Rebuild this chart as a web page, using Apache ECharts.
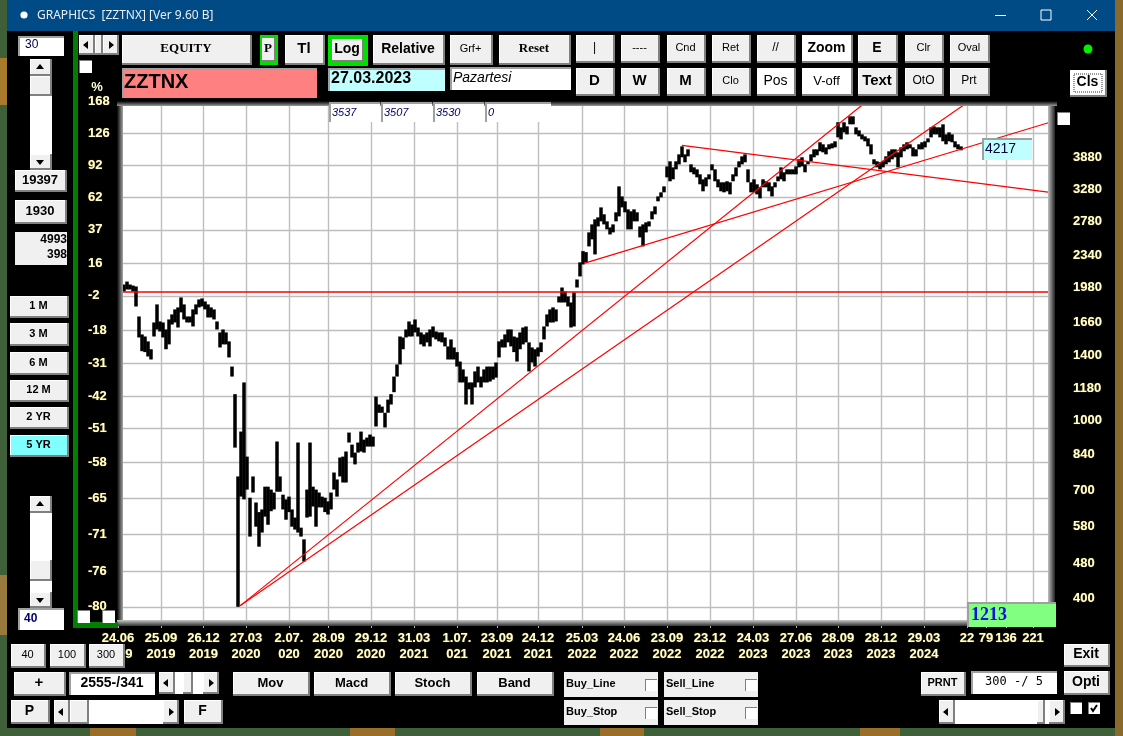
<!DOCTYPE html>
<html><head><meta charset="utf-8">
<style>html,body{margin:0;padding:0;background:#000;overflow:hidden}#c{width:1123px;height:736px}</style>
<script src="https://cdn.jsdelivr.net/npm/echarts@6/dist/echarts.min.js"></script></head>
<body><div id="c"></div>
<script>
// ---------- data ----------
const highs = [2045,2066,2098,2130,2098,2087,2077,1780,1623,1606,1566,1504,1726,1894,1735,1726,1665,1753,1799,1846,1865,1963,1894,1780,1780,1846,1894,1943,1953,1923,1894,1865,1846,1735,1640,1665,1640,1566,1376,1194,782,985,1268,866,701,782,684,651,660,742,742,731,720,936,782,712,695,705,660,633,931,601,566,731,931,742,731,720,705,701,688,720,798,770,862,866,889,980,921,884,931,985,945,955,970,960,1179,1132,1120,1085,1161,1194,1307,1391,1606,1598,1665,1735,1708,1753,1682,1640,1623,1640,1665,1691,1648,1640,1640,1598,1526,1582,1518,1482,1412,1356,1307,1268,1268,1342,1376,1307,1356,1376,1376,1376,1405,1566,1582,1623,1665,1665,1606,1598,1640,1682,1691,1558,1518,1504,1518,1558,1691,1799,1846,1865,1846,1973,2066,2024,1973,1913,2014,2153,2351,2491,2478,2743,2858,2933,2963,3119,3010,2903,2814,2858,3041,3475,3300,3218,3088,3057,3088,3041,2828,2858,2888,2903,3057,3135,3300,3370,3475,3851,3953,3832,3953,4097,4269,4097,4204,3892,3832,3793,3697,3603,3640,3697,3892,3793,3603,3548,3548,3567,3548,3697,3832,3953,4055,4097,3793,3548,3603,3512,3458,3603,3567,3548,3475,3548,3658,3832,3736,3793,3793,3793,3851,3994,4035,3892,3953,4097,4204,4204,4359,4314,4247,4314,4336,4381,4831,4707,4831,4731,4981,4981,4707,4635,4540,4494,4448,4314,3994,3953,3933,3953,4055,4162,4204,4204,4140,4247,4314,4359,4314,4247,4204,4314,4359,4381,4448,4707,4731,4707,4707,4781,4540,4587,4540,4381,4314,4269];
const lows = [1973,1973,2024,2045,2045,2024,1874,1598,1489,1482,1449,1427,1606,1665,1648,1598,1504,1542,1708,1726,1682,1818,1753,1726,1726,1691,1799,1865,1874,1846,1771,1771,1753,1665,1518,1542,1542,1442,1307,907,400,705,695,731,574,720,604,545,586,636,610,654,660,723,723,660,626,651,604,595,586,574,505,633,636,670,604,667,667,651,643,660,731,705,782,758,758,931,862,832,884,889,884,912,912,912,1011,1085,1085,1006,1085,1132,1206,1307,1391,1504,1598,1606,1606,1640,1606,1542,1526,1558,1526,1598,1582,1566,1558,1526,1427,1427,1427,1376,1268,1268,1132,1224,1132,1236,1268,1236,1268,1268,1274,1287,1300,1442,1518,1518,1558,1526,1482,1412,1504,1542,1558,1342,1405,1376,1449,1482,1582,1691,1726,1726,1735,1913,1913,1913,1874,1682,1691,2066,2187,2326,2351,2552,2646,2449,2828,2903,2858,2786,2714,2743,2903,2978,3119,3041,2786,2786,2903,2903,2673,2552,2743,2828,2933,3010,3218,3284,3370,3640,3567,3603,3793,3892,4035,3933,4055,3736,3697,3640,3512,3388,3475,3603,3774,3567,3458,3388,3370,3388,3335,3567,3658,3832,3892,3933,3548,3370,3370,3335,3267,3458,3458,3388,3300,3458,3567,3603,3567,3697,3697,3697,3697,3832,3851,3736,3892,3953,4035,4076,4162,4140,4097,4204,4226,4247,4471,4425,4587,4540,4781,4781,4540,4494,4425,4381,4269,4097,3892,3832,3793,3832,3892,3933,3994,4035,3832,4035,4162,4204,4226,4055,4055,4204,4204,4247,4359,4471,4540,4540,4471,4381,4314,4381,4359,4247,4204,4183];
const zeroLevel = 2024;
const trendA = [[40.67,402],[249,5343]];
const trendB = [[40.67,402],[283,5343]];
const trendC = [[155.3,2339],[310.67,4831]];
const trendD = [[188,4291],[310.67,3370]];
const priceTicks = [5390,4565,3880,3280,2780,2340,1980,1660,1400,1180,1000,840,700,580,480,400];
const priceLabels = ['','','3880','3280','2780','2340','1980','1660','1400','1180','1000','840','700','580','480','400'];
const percentLabels = ['168','126','92','62','37','16','-2','-18','-31','-42','-51','-58','-65','-71','-76','-80'];
const xTicks = [0,14.33,28.5,42.67,57,70.17,84.33,98.67,113,126.33,140,154.67,168.67,183,197.33,211.67,226,240,254.33,268.67,283,289.33,296,305];
const xLabels = ['24.06\n2019','25.09\n2019','26.12\n2019','27.03\n2020','2.07.\n020','28.09\n2020','29.12\n2020','31.03\n2021','1.07.\n021','23.09\n2021','24.12\n2021','25.03\n2022','24.06\n2022','23.09\n2022','23.12\n2022','24.03\n2023','27.06\n2023','28.09\n2023','28.12\n2023','29.03\n2024','22\n ','79\n ','136\n ','221\n '];

// ---------- window furniture ----------
const G = [];
const SANS = '"Liberation Sans",Arial,sans-serif', NARROW = '"Liberation Sans Narrow","Liberation Sans",sans-serif', SERIF = '"Liberation Serif",serif', UI = '"Noto Sans","Open Sans",sans-serif';
function rect(x,y,w,h,fill,z){G.push({type:'rect',z:z===undefined?100:z,silent:true,shape:{x,y,width:w,height:h},style:{fill}});}
function txt(x,y,t,o){o=o||{};G.push({type:'text',z:o.z||105,silent:true,x,y,style:{text:t,fill:o.c||'#000',font:(o.i?'italic ':'')+(o.b?'bold ':'')+(o.s||13)+'px '+(o.f||SANS),textAlign:o.a||'center',textVerticalAlign:'middle'}});}
function btn(x1,y1,x2,y2,t,o){o=o||{};rect(x1,y1,x2-x1,y2-y1,'#808080');rect(x1,y1,x2-x1-2,y2-y1-2,'#fff');rect(x1+1,y1+1,x2-x1-3,y2-y1-3,o.face||'#F0F0F0');
  if(t)txt((x1+x2)/2-1,(y1+y2)/2-1,t,Object.assign({b:true},o));}
function input(x1,y1,x2,y2,t,o){o=o||{};rect(x1,y1,x2-x1,y2-y1,'#A0A0A0');rect(x1+2,y1+2,x2-x1-2,y2-y1-2,o.face||'#fff');
  if(t)txt(o.tx||(x1+x2)/2,(y1+y2)/2,t,o);}
function tri(cx,cy,dir){const r=4;const pts={u:[[cx-r,cy+2],[cx+r,cy+2],[cx,cy-3]],d:[[cx-r,cy-2],[cx+r,cy-2],[cx,cy+3]],l:[[cx+2,cy-r],[cx+2,cy+r],[cx-3,cy]],r:[[cx-2,cy-r],[cx-2,cy+r],[cx+3,cy]]}[dir];
  G.push({type:'polygon',z:106,silent:true,shape:{points:pts},style:{fill:'#000'}});}
function check(x,y,s,on){rect(x,y,s,s,'#808080');rect(x+1,y+1,s-1,s-1,'#fff');if(on)G.push({type:'polyline',z:106,silent:true,shape:{points:[[x+3,y+s/2],[x+s/2-1,y+s-3],[x+s-3,y+3]]},style:{stroke:'#000',lineWidth:2,fill:null}});}
function vscroll(x1,x2,y1,y2,t1,t2){rect(x1,y1,x2-x1,y2-y1,'#fff');btn(x1,y1,x2,y1+17);tri((x1+x2)/2-1,y1+8,'u');btn(x1,y2-16,x2,y2);tri((x1+x2)/2-1,y2-8,'d');btn(x1,t1,x2,t2);}
function hscroll(x1,x2,y1,y2,t1,t2){rect(x1,y1,x2-x1,y2-y1,'#fff');btn(x1,y1,x1+16,y2);tri(x1+7,(y1+y2)/2,'l');btn(x2-16,y1,x2,y2);tri(x2-8,(y1+y2)/2,'r');btn(t1,y1,t2,y2);}

// desktop behind the window
rect(0,0,1123,736,'#3F5F38',-20);
rect(0,58,7,47,'#A87A2C',-19);rect(0,575,7,60,'#9A7A3C',-19);
rect(1115,0,8,736,'#8A6A2C',-19);
[[90,46],[350,45],[600,44],[860,40]].forEach(b=>rect(b[0],728,b[1],8,'#9A6E28',-19));
rect(7,0,1108,728,'#000',-18);
rect(7,0,1108,31,'#004A85',-17);
G.push({type:'circle',z:-16,silent:true,shape:{cx:24,cy:15,r:3.6},style:{fill:'#fff'}});
txt(37,16,'GRAPHICS  [ZZTNX] [Ver 9.60 B]',{a:'left',c:'#E8EEF4',s:12,f:UI});
rect(995,15,11,1,'#fff');
G.push({type:'rect',z:105,silent:true,shape:{x:1041,y:10,width:10,height:10},style:{fill:null,stroke:'#fff',lineWidth:1}});
G.push({type:'line',z:105,silent:true,shape:{x1:1087,y1:10,x2:1097,y2:20},style:{stroke:'#fff'}});
G.push({type:'line',z:105,silent:true,shape:{x1:1097,y1:10,x2:1087,y2:20},style:{stroke:'#fff'}});
// green divider
rect(73,31,5,597,'#008000',90);rect(73,622,45,6,'#008000',90);
// plot bevel
G.push({type:'rect',z:50,silent:true,shape:{x:117,y:95,width:940,height:11},style:{fill:{type:'linear',x:0,y:0,x2:0,y2:1,colorStops:[{offset:0,color:'#000'},{offset:.55,color:'#000'},{offset:1,color:'#9A9A9A'}]}}});
G.push({type:'rect',z:50,silent:true,shape:{x:117,y:106,width:6,height:516},style:{fill:{type:'linear',x:0,y:0,x2:1,y2:0,colorStops:[{offset:0,color:'#000'},{offset:1,color:'#A8A8A8'}]}}});
G.push({type:'rect',z:50,silent:true,shape:{x:1048,y:106,width:7,height:516},style:{fill:{type:'linear',x:0,y:0,x2:1,y2:0,colorStops:[{offset:0,color:'#C0C0C0'},{offset:1,color:'#222'}]}}});
G.push({type:'rect',z:50,silent:true,shape:{x:117,y:620,width:938,height:6},style:{fill:{type:'linear',x:0,y:0,x2:0,y2:1,colorStops:[{offset:0,color:'#C8C8C8'},{offset:1,color:'#333'}]}}});
txt(97,87,'%',{c:'#FFFFD0',b:true,s:13,f:NARROW});

// top buttons
btn(122,35,252,65,'EQUITY',{f:SERIF,s:13});
rect(260,35,18,30,'#00E000');btn(262,38,276,62,'P',{f:SERIF,s:13});
btn(285,35,325,65,'Tl',{s:15,f:NARROW});
rect(328,35,40,31,'#00E000');btn(332,39,364,62,'Log',{s:14});
btn(373,35,445,65,'Relative',{s:14});
btn(450,35,493,65,'Grf+',{s:11,f:SANS,b:false});
btn(499,35,571,65,'Reset',{f:SERIF,s:13});
const r1=[[576,615,'|',12,0],[621,660,'----',11,0],[667,706,'Cnd',11,0],[712,751,'Ret',11,0],[757,796,'//',12,0],[802,853,'Zoom',14,1],[858,898,'E',14,1],[905,944,'Clr',11,0],[950,990,'Oval',11,0]];
r1.forEach(b=>btn(b[0],35,b[1],63,b[2],{s:b[3],b:!!b[4],face:b[2]==='Zoom'?'#fff':undefined,f:SANS}));
const r2=[[576,615,'D',15,1],[621,660,'W',15,1],[667,706,'M',15,1],[712,751,'Clo',11,0],[757,796,'Pos',14,0],[802,853,'V-off',13,0],[858,898,'Text',15,1],[905,944,'OtO',12,0],[950,990,'Prt',12,0]];
r2.forEach(b=>btn(b[0],68,b[1],96,b[2],{s:b[3],b:!!b[4],f:SANS,face:(b[2]==='Pos'||b[2]==='V-off')?'#fff':undefined}));
btn(1070,70,1107,97,'Cls',{s:14,face:'#fff',b:true,f:SANS});
G.push({type:'rect',z:104,silent:true,shape:{x:1074,y:74,width:28,height:18},style:{fill:null,stroke:'#333',lineDash:[1,1]}});
G.push({type:'circle',z:105,silent:true,shape:{cx:1088,cy:49,r:4.5},style:{fill:'#00F000'}});
input(122,68,317,98,'',{face:'#FF8080'});txt(124,82,'ZZTNX',{a:'left',b:true,s:20});
input(328,68,445,91,'',{face:'#C0FFFF'});txt(331,79,'27.03.2023',{a:'left',b:true,s:16});
input(450,67,571,90,'',{});txt(453,78,'Pazartesi',{a:'left',i:true,s:14});
[[329,380,'3537'],[381,432,'3507'],[433,484,'3530'],[485,551,'0']].forEach(b=>{input(b[0],102,b[1],122,'',{});txt(b[0]+3,113,b[2],{a:'left',i:true,s:11,c:'#000060'});});
hscroll(79,119,35,55,95,103);check(79,60,13);
check(1057,112,13);

// left panel
input(18,36,64,56,'',{});txt(25,45,'30',{a:'left',s:12,c:'#000040'});
vscroll(30,52,59,170,76,96);
btn(15,170,67,192,'19397',{s:13});btn(15,200,67,224,'1930',{s:13});
rect(15,232,52,33,'#F0F0F0');txt(67,240,'4993',{a:'right',b:true,s:12});txt(67,255,'398',{a:'right',b:true,s:12});
[[296,318,'1 M'],[323,346,'3 M'],[352,375,'6 M'],[380,402,'12 M'],[407,429,'2 YR'],[435,457,'5 YR']].forEach(b=>btn(10,b[0],69,b[1],b[2],{s:11,face:b[2]==='5 YR'?'#80FFFF':undefined}));
vscroll(30,52,496,608,560,581);
input(18,608,64,630,'',{});txt(24,619,'40',{a:'left',s:12,b:true,c:'#000070'});
check(77,610,13);check(102,610,13);

// right side
input(982,138,1032,160,'',{face:'#C0FFFF'});txt(985,149,'4217',{a:'left',s:14,c:'#000040'});
input(967,602,1056,627,'',{face:'#80FF80'});txt(971,615,'1213',{a:'left',b:true,s:18,f:SERIF,c:'#1010E0'});

// bottom
[[11,46,'40'],[50,86,'100'],[89,125,'300']].forEach(b=>btn(b[0],644,b[1],668,b[2],{s:11,b:false}));
btn(14,672,66,696,'+',{s:15});
input(69,672,155,695,'',{});txt(112,683,'2555-/341',{s:14,b:true,f:SANS});
hscroll(159,219,672,694,183,193);
[[233,310,'Mov'],[314,391,'Macd'],[395,472,'Stoch'],[477,554,'Band']].forEach(b=>btn(b[0],672,b[1],696,b[2],{s:13}));
btn(11,700,50,724,'P',{s:14});hscroll(54,179,700,724,70,89);
btn(184,700,223,724,'F',{s:14});
[[564,658,672,'Buy_Line'],[664,758,672,'Sell_Line'],[564,658,700,'Buy_Stop'],[664,758,700,'Sell_Stop']].forEach(b=>{rect(b[0],b[2],b[1]-b[0],25,'#F0F0F0');txt(b[0]+2,b[2]+12,b[3],{a:'left',s:11,b:true,f:SANS});check(b[1]-13,b[2]+7,12);});
btn(921,672,966,696,'PRNT',{s:11});
input(971,671,1057,694,'',{});txt(1014,682,'300 -/ 5',{s:12,f:'"DejaVu Sans Mono",monospace'});
btn(1064,644,1110,667,'Exit',{s:14});btn(1064,671,1110,695,'Opti',{s:14});
hscroll(939,1065,700,724,1037,1045);
check(1070,702,12);check(1088,702,12,true);

// ---------- chart ----------
const chart = echarts.init(document.getElementById('c'),null,{renderer:'canvas',width:1123,height:736});
const bars = highs.map((h,i)=>[i,h,lows[i]]);
const redLine = (d)=>({type:'line',data:d,showSymbol:false,silent:true,z:4,clip:true,itemStyle:{color:'#FF0000'},lineStyle:{color:'#FF0000',width:1.2},xAxisIndex:0,yAxisIndex:0,animation:false});
const yMin = 370, yMax = 5390;
const nearestTick = v => {let k=0,b=Infinity;priceTicks.forEach((p,i)=>{const d=Math.abs(Math.log(p)-Math.log(v));if(d<b){b=d;k=i;}});return k;};
const yLabelBase = {color:'#FFFFD0',fontWeight:'bold',fontSize:13,fontFamily:SANS,textShadowColor:'#A08020',textShadowBlur:1};
chart.setOption({
  animation:false,
  backgroundColor:'transparent',
  graphic:{elements:G},
  grid:{left:118,right:71,top:101,bottom:114,show:true,backgroundColor:'#fff',borderWidth:0},
  xAxis:{type:'value',min:0,max:311.33,
    axisLine:{show:false,onZero:false},
    axisTick:{show:true,customValues:xTicks,length:6,lineStyle:{color:'#BBB'}},
    splitLine:{show:true,lineStyle:{color:'#BEBEBE',width:1.4}},
    axisLabel:{show:true,customValues:xTicks,margin:8,lineHeight:16,color:'#FFFFD0',fontWeight:'bold',fontSize:13,fontFamily:SANS,textShadowColor:'#A08020',textShadowBlur:1,hideOverlap:false,showMinLabel:true,showMaxLabel:true,
      formatter:(v,i)=>{const k=xTicks.indexOf(v);return xLabels[k>=0?k:i];}}},
  yAxis:[
    {type:'log',logBase:Math.E,min:yMin,max:yMax,position:'right',
     axisLine:{show:false},
     axisTick:{show:true,customValues:priceTicks,length:11,lineStyle:{color:'#BBB'}},
     splitLine:{show:true,lineStyle:{color:'#BEBEBE',width:1.4}},
     axisLabel:Object.assign({show:true,customValues:priceTicks,margin:21,align:'left',verticalAlign:'bottom',lineHeight:16,hideOverlap:false,showMinLabel:true,showMaxLabel:true,
       formatter:v=>priceLabels[nearestTick(v)]},yLabelBase)},
    {type:'log',logBase:Math.E,min:yMin,max:yMax,position:'left',
     axisLine:{show:false},axisTick:{show:false,customValues:priceTicks},splitLine:{show:false},
     axisLabel:Object.assign({show:true,customValues:priceTicks,margin:30,align:'left',hideOverlap:false,showMinLabel:true,showMaxLabel:true,
       formatter:v=>percentLabels[nearestTick(v)]},yLabelBase)}
  ],
  series:[
    {type:'custom',data:bars,encode:{x:0,y:[1,2]},z:3,silent:true,clip:true,animation:false,
     renderItem:(p,api)=>{const a=api.coord([api.value(0),api.value(1)]),b=api.coord([api.value(0),api.value(2)]);
       return {type:'rect',shape:{x:a[0]-1.75,y:a[1],width:3.5,height:Math.max(3,b[1]-a[1])},style:{fill:'#000'}};},
     markLine:{silent:true,symbol:'none',animation:false,z:4,label:{show:false},lineStyle:{color:'#FF0000',type:'solid',width:1.5},data:[{yAxis:zeroLevel}]}},
    redLine(trendA),redLine(trendB),redLine(trendC),redLine(trendD)
  ]
});
</script></body></html>
